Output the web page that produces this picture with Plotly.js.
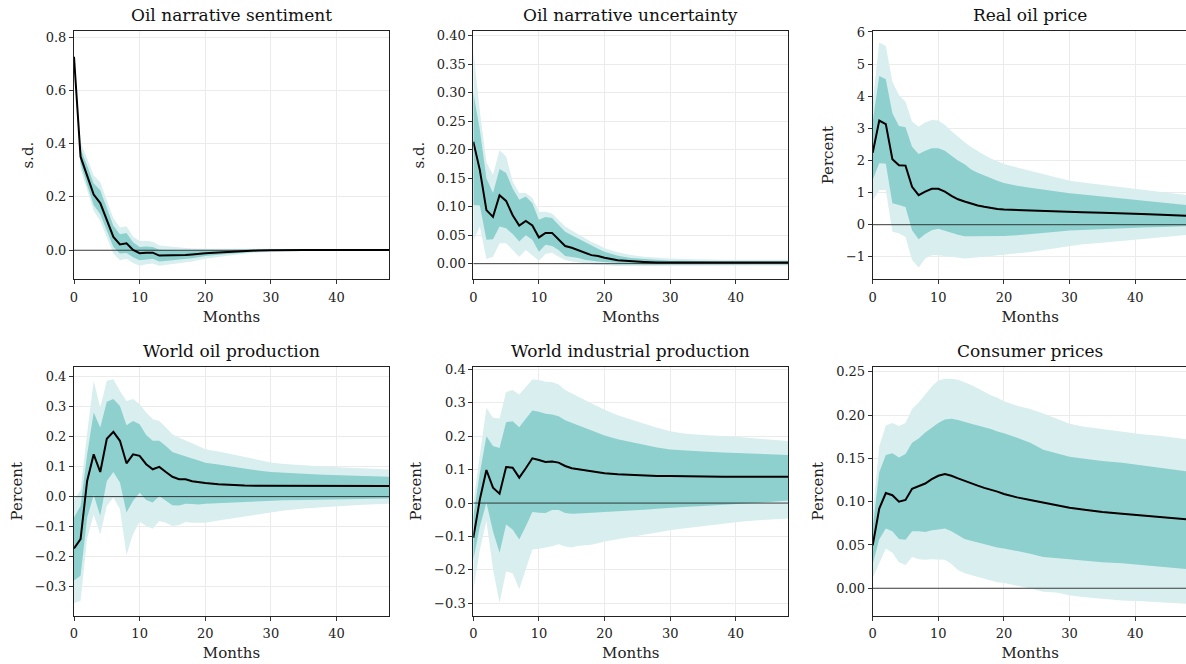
<!DOCTYPE html>
<html>
<head>
<meta charset="utf-8">
<script src="https://cdn.plot.ly/plotly-3.0.1.min.js"></script>
<style>
html, body { margin: 0; padding: 0; overflow: hidden; background: #fff; }
#chart { width: 1189px; height: 664px; }
</style>
</head>
<body>
<div id="chart"></div>
<script>
// Horizon (months)
const months = [0,1,2,3,4,5,6,7,8,9,10,11,12,13,14,15,16,17,18,19,20,22,24,26,28,30,32,35,38,41,44,48];

const panelTitles = ["Oil narrative sentiment", "Oil narrative uncertainty", "Real oil price",
                     "World oil production", "World industrial production", "Consumer prices"];
const yLabels = ["s.d.", "s.d.", "Percent", "Percent", "Percent", "Percent"];
const xLabel = "Months";

// Oil narrative sentiment
const sentMed   = [0.726,0.351,0.28,0.209,0.177,0.114,0.05,0.022,0.026,0.001,-0.011,-0.009,-0.009,-0.020,-0.020,-0.019,-0.018,-0.018,-0.016,-0.013,-0.011,-0.008,-0.005,-0.003,-0.001,0.0,0.001,0.001,0.001,0.001,0.0005,0.0005];
const sentInLo  = [0.72,0.325,0.245,0.17,0.135,0.075,0.012,-0.012,-0.01,-0.026,-0.038,-0.035,-0.032,-0.042,-0.041,-0.038,-0.035,-0.033,-0.03,-0.026,-0.022,-0.017,-0.012,-0.008,-0.005,-0.003,-0.002,-0.001,-0.001,0.0,0.0,0.0];
const sentInHi  = [0.732,0.38,0.318,0.25,0.225,0.16,0.092,0.06,0.065,0.03,0.012,0.014,0.012,0.002,0.0,0.0,-0.001,-0.002,-0.002,-0.001,-0.001,0.0,0.001,0.002,0.002,0.003,0.003,0.003,0.002,0.002,0.001,0.001];
const sentOutLo = [0.716,0.305,0.225,0.148,0.11,0.052,-0.012,-0.038,-0.032,-0.048,-0.058,-0.053,-0.05,-0.058,-0.056,-0.052,-0.049,-0.046,-0.042,-0.037,-0.032,-0.025,-0.018,-0.013,-0.008,-0.006,-0.004,-0.003,-0.002,-0.001,-0.001,-0.001];
const sentOutHi = [0.736,0.405,0.345,0.28,0.255,0.19,0.12,0.085,0.09,0.052,0.035,0.036,0.032,0.018,0.015,0.012,0.01,0.008,0.007,0.006,0.006,0.006,0.006,0.005,0.005,0.005,0.005,0.004,0.004,0.003,0.002,0.002];

// Oil narrative uncertainty
const uncMed   = [0.214,0.164,0.094,0.082,0.120,0.110,0.085,0.067,0.075,0.067,0.046,0.054,0.054,0.043,0.031,0.028,0.024,0.019,0.015,0.0135,0.0105,0.006,0.004,0.003,0.002,0.002,0.002,0.002,0.002,0.002,0.002,0.002];
const uncInLo  = [0.103,0.102,0.042,0.043,0.065,0.062,0.052,0.039,0.050,0.042,0.021,0.033,0.031,0.024,0.0135,0.012,0.010,0.007,0.005,0.004,0.003,0.001,0.0,-0.001,-0.001,-0.001,-0.001,-0.0005,-0.0005,-0.0005,-0.0005,-0.0005];
const uncInHi  = [0.30,0.234,0.150,0.124,0.166,0.159,0.132,0.112,0.118,0.106,0.077,0.082,0.080,0.068,0.056,0.050,0.044,0.037,0.031,0.026,0.021,0.014,0.010,0.008,0.006,0.005,0.005,0.004,0.004,0.004,0.004,0.004];
const uncOutLo = [0.040,0.065,0.008,0.012,0.036,0.036,0.024,0.012,0.024,0.015,0.005,0.017,0.019,0.012,0.0065,0.004,0.002,0.0,-0.001,-0.002,-0.003,-0.004,-0.004,-0.004,-0.004,-0.004,-0.004,-0.003,-0.003,-0.003,-0.003,-0.003];
const uncOutHi = [0.375,0.267,0.178,0.156,0.199,0.188,0.144,0.124,0.124,0.115,0.091,0.091,0.088,0.077,0.065,0.058,0.051,0.044,0.038,0.033,0.027,0.020,0.015,0.012,0.010,0.009,0.008,0.007,0.007,0.007,0.007,0.007];

// Real oil price
const priceMed   = [2.24,3.24,3.13,2.04,1.85,1.84,1.18,0.92,1.03,1.12,1.12,1.03,0.90,0.79,0.72,0.65,0.60,0.56,0.52,0.49,0.47,0.46,0.44,0.42,0.41,0.40,0.39,0.37,0.36,0.33,0.31,0.28];
const priceInLo  = [1.4,1.91,1.90,0.67,0.61,0.55,-0.17,-0.45,-0.29,-0.17,-0.13,-0.18,-0.25,-0.31,-0.36,-0.36,-0.36,-0.36,-0.36,-0.36,-0.35,-0.33,-0.30,-0.26,-0.22,-0.18,-0.16,-0.13,-0.11,-0.09,-0.07,-0.05];
const priceInHi  = [3.2,4.63,4.53,3.47,3.07,3.03,2.43,2.20,2.30,2.38,2.38,2.30,2.15,2.00,1.88,1.72,1.62,1.53,1.45,1.37,1.30,1.21,1.15,1.09,1.03,0.98,0.94,0.88,0.81,0.76,0.70,0.61];
const priceOutLo = [0.75,1.08,1.08,-0.22,-0.27,-0.38,-1.10,-1.33,-1.05,-0.95,-0.95,-0.98,-1.0,-1.03,-1.05,-1.04,-1.02,-1.0,-0.99,-0.97,-0.94,-0.90,-0.85,-0.79,-0.73,-0.66,-0.61,-0.56,-0.50,-0.45,-0.40,-0.32];
const priceOutHi = [3.8,5.67,5.56,4.45,4.04,3.83,3.21,3.05,3.18,3.26,3.24,3.10,2.92,2.74,2.57,2.42,2.29,2.17,2.06,1.97,1.89,1.78,1.68,1.58,1.46,1.37,1.31,1.24,1.15,1.08,1.01,0.92];

// World oil production
const prodMed   = [-0.173,-0.142,0.052,0.141,0.082,0.193,0.216,0.186,0.111,0.141,0.136,0.108,0.091,0.099,0.082,0.066,0.058,0.058,0.051,0.047,0.045,0.041,0.038,0.037,0.036,0.036,0.036,0.036,0.036,0.036,0.036,0.035];
const prodInLo  = [-0.28,-0.264,-0.07,0.005,-0.064,0.052,0.082,0.047,-0.053,-0.014,0.013,-0.011,-0.020,0.002,-0.014,-0.029,-0.030,-0.024,-0.025,-0.026,-0.024,-0.022,-0.020,-0.018,-0.016,-0.013,-0.012,-0.011,-0.010,-0.008,-0.007,-0.006];
const prodInHi  = [-0.07,-0.031,0.14,0.280,0.230,0.316,0.325,0.302,0.238,0.252,0.241,0.205,0.186,0.186,0.169,0.149,0.141,0.135,0.127,0.120,0.113,0.107,0.100,0.094,0.087,0.082,0.079,0.076,0.073,0.071,0.068,0.066];
const prodOutLo = [-0.355,-0.348,-0.14,-0.06,-0.126,-0.031,-0.003,-0.042,-0.195,-0.125,-0.084,-0.098,-0.107,-0.081,-0.087,-0.098,-0.095,-0.085,-0.087,-0.088,-0.087,-0.080,-0.073,-0.066,-0.058,-0.051,-0.046,-0.040,-0.035,-0.031,-0.027,-0.024];
const prodOutHi = [-0.01,0.02,0.21,0.386,0.297,0.386,0.391,0.352,0.319,0.325,0.308,0.28,0.258,0.252,0.23,0.208,0.196,0.188,0.178,0.168,0.158,0.150,0.141,0.132,0.122,0.114,0.109,0.104,0.100,0.097,0.094,0.090];

// World industrial production
const ipMed   = [-0.104,0.011,0.099,0.046,0.028,0.108,0.106,0.076,0.104,0.134,0.129,0.123,0.124,0.121,0.111,0.104,0.101,0.098,0.094,0.091,0.089,0.086,0.084,0.082,0.081,0.081,0.080,0.080,0.079,0.079,0.079,0.079];
const ipInLo  = [-0.17,-0.07,0.001,-0.084,-0.149,-0.064,-0.079,-0.109,-0.069,-0.027,-0.029,-0.030,-0.021,-0.021,-0.030,-0.032,-0.031,-0.030,-0.030,-0.029,-0.028,-0.026,-0.023,-0.020,-0.017,-0.014,-0.012,-0.009,-0.006,-0.002,0.002,0.008];
const ipInHi  = [-0.04,0.09,0.20,0.171,0.165,0.242,0.245,0.227,0.252,0.277,0.273,0.267,0.265,0.26,0.248,0.24,0.232,0.225,0.216,0.208,0.202,0.191,0.182,0.174,0.166,0.160,0.157,0.154,0.151,0.149,0.147,0.144];
const ipOutLo = [-0.26,-0.14,-0.054,-0.198,-0.298,-0.205,-0.21,-0.258,-0.198,-0.139,-0.137,-0.134,-0.129,-0.123,-0.13,-0.133,-0.128,-0.126,-0.125,-0.12,-0.115,-0.108,-0.101,-0.094,-0.087,-0.081,-0.076,-0.069,-0.062,-0.055,-0.051,-0.046];
const ipOutHi = [0.0,0.15,0.285,0.255,0.253,0.332,0.338,0.325,0.348,0.37,0.368,0.363,0.362,0.355,0.338,0.327,0.318,0.308,0.298,0.288,0.279,0.263,0.250,0.238,0.225,0.215,0.208,0.204,0.201,0.197,0.192,0.186];

// Consumer prices
const cpiMed   = [0.0497,0.092,0.110,0.1075,0.100,0.102,0.115,0.118,0.121,0.126,0.130,0.132,0.130,0.127,0.124,0.121,0.1186,0.116,0.114,0.1117,0.109,0.105,0.102,0.099,0.0955,0.093,0.091,0.088,0.086,0.084,0.082,0.0795];
const cpiInLo  = [0.028,0.0566,0.069,0.066,0.057,0.056,0.066,0.066,0.065,0.067,0.068,0.069,0.066,0.061,0.057,0.055,0.053,0.051,0.049,0.047,0.046,0.043,0.040,0.036,0.035,0.0335,0.032,0.030,0.029,0.027,0.025,0.022];
const cpiInHi  = [0.07,0.134,0.154,0.156,0.151,0.155,0.168,0.173,0.180,0.186,0.191,0.195,0.196,0.1945,0.192,0.190,0.188,0.186,0.184,0.181,0.179,0.174,0.168,0.160,0.156,0.152,0.150,0.147,0.145,0.142,0.139,0.135];
const cpiOutLo = [0.012,0.030,0.046,0.041,0.030,0.027,0.036,0.0335,0.033,0.0335,0.0335,0.033,0.028,0.021,0.0173,0.015,0.013,0.011,0.009,0.007,0.006,0.003,0.0,-0.004,-0.005,-0.008,-0.010,-0.012,-0.014,-0.015,-0.016,-0.018];
const cpiOutHi = [0.085,0.164,0.188,0.191,0.1876,0.191,0.207,0.2145,0.224,0.233,0.240,0.242,0.242,0.241,0.238,0.235,0.231,0.227,0.223,0.220,0.216,0.211,0.207,0.202,0.196,0.190,0.187,0.184,0.181,0.178,0.176,0.172];

// y-axis settings per panel
const yRanges = [[-0.109,0.8225],[-0.0274,0.408],[-1.70,6.03],[-0.397,0.433],[-0.337,0.408],[-0.0317,0.256]];
const yDticks = [0.2, 0.05, 1, 0.1, 0.1, 0.05];
const yFormats = [".1f", ".2f", "d", ".1f", ".1f", ".2f"];

const panels = [
  [sentMed, sentInLo, sentInHi, sentOutLo, sentOutHi],
  [uncMed, uncInLo, uncInHi, uncOutLo, uncOutHi],
  [priceMed, priceInLo, priceInHi, priceOutLo, priceOutHi],
  [prodMed, prodInLo, prodInHi, prodOutLo, prodOutHi],
  [ipMed, ipInLo, ipInHi, ipOutLo, ipOutHi],
  [cpiMed, cpiInLo, cpiInHi, cpiOutLo, cpiOutHi]
];

const W = 1189, H = 664;
const colPx = [[74, 389], [473.3, 788.3], [872.7, 1187.7]];
const rowPx = [[31, 279.3], [366.7, 615.7]];

const FONT = "DejaVu Serif";
const LIGHT = "#d9eeee";
const DARK = "#8dd0ce";

const traces = [];
const layout = {
  width: W, height: H,
  margin: {l: 0, r: 0, t: 0, b: 0},
  paper_bgcolor: "#fff", plot_bgcolor: "#fff",
  showlegend: false,
  font: {family: FONT, color: "#222"},
  annotations: []
};

panels.forEach((p, i) => {
  const [med, inLo, inHi, outLo, outHi] = p;
  const n = i + 1;
  const xa = n === 1 ? "x" : "x" + n;
  const ya = n === 1 ? "y" : "y" + n;
  const col = i % 3, row = Math.floor(i / 3);
  const xd = [colPx[col][0] / W, colPx[col][1] / W];
  const yd = [1 - rowPx[row][1] / H, 1 - rowPx[row][0] / H];

  traces.push({x: months, y: outLo, xaxis: xa, yaxis: ya, mode: "lines", line: {width: 0, color: LIGHT}, hoverinfo: "skip"});
  traces.push({x: months, y: outHi, xaxis: xa, yaxis: ya, mode: "lines", line: {width: 0, color: LIGHT}, fill: "tonexty", fillcolor: LIGHT, hoverinfo: "skip"});
  traces.push({x: months, y: inLo, xaxis: xa, yaxis: ya, mode: "lines", line: {width: 0, color: DARK}, hoverinfo: "skip"});
  traces.push({x: months, y: inHi, xaxis: xa, yaxis: ya, mode: "lines", line: {width: 0, color: DARK}, fill: "tonexty", fillcolor: DARK, hoverinfo: "skip"});
  // zero reference line (axhline)
  traces.push({x: [months[0], months[months.length - 1]], y: [0, 0], xaxis: xa, yaxis: ya, mode: "lines", line: {width: 1, color: "rgba(30,30,30,0.85)"}, hoverinfo: "skip"});
  traces.push({x: months, y: med, xaxis: xa, yaxis: ya, mode: "lines", line: {width: 2, color: "#000"}});

  const common = {
    showline: true, mirror: true, linecolor: "#222", linewidth: 1,
    ticks: "outside", ticklen: 4, tickwidth: 1, tickcolor: "#333",
    showgrid: true, gridcolor: "#ebebeb", gridwidth: 1,
    zeroline: false,
    tickfont: {family: FONT, size: 13, color: "#222"},
    automargin: false, fixedrange: true
  };
  layout[n === 1 ? "xaxis" : "xaxis" + n] = Object.assign({}, common, {
    domain: xd, anchor: ya, range: [0, 48], tick0: 0, dtick: 10,
    ticklabelstandoff: 2,
    title: {text: xLabel, font: {family: FONT, size: 15, color: "#222"}, standoff: 7}
  });
  layout[n === 1 ? "yaxis" : "yaxis" + n] = Object.assign({}, common, {
    domain: yd, anchor: xa, range: yRanges[i], tick0: 0, dtick: yDticks[i], tickformat: yFormats[i],
    title: {text: yLabels[i], font: {family: FONT, size: 15, color: "#222"}, standoff: 8}
  });
  layout.annotations.push({
    text: panelTitles[i], xref: "paper", yref: "paper",
    x: (xd[0] + xd[1]) / 2, y: yd[1] + 16 / H, xanchor: "center", yanchor: "middle",
    showarrow: false, font: {family: FONT, size: 17, color: "#111"}
  });
});

Plotly.newPlot("chart", traces, layout, {staticPlot: true, displayModeBar: false});
</script>
</body>
</html>
